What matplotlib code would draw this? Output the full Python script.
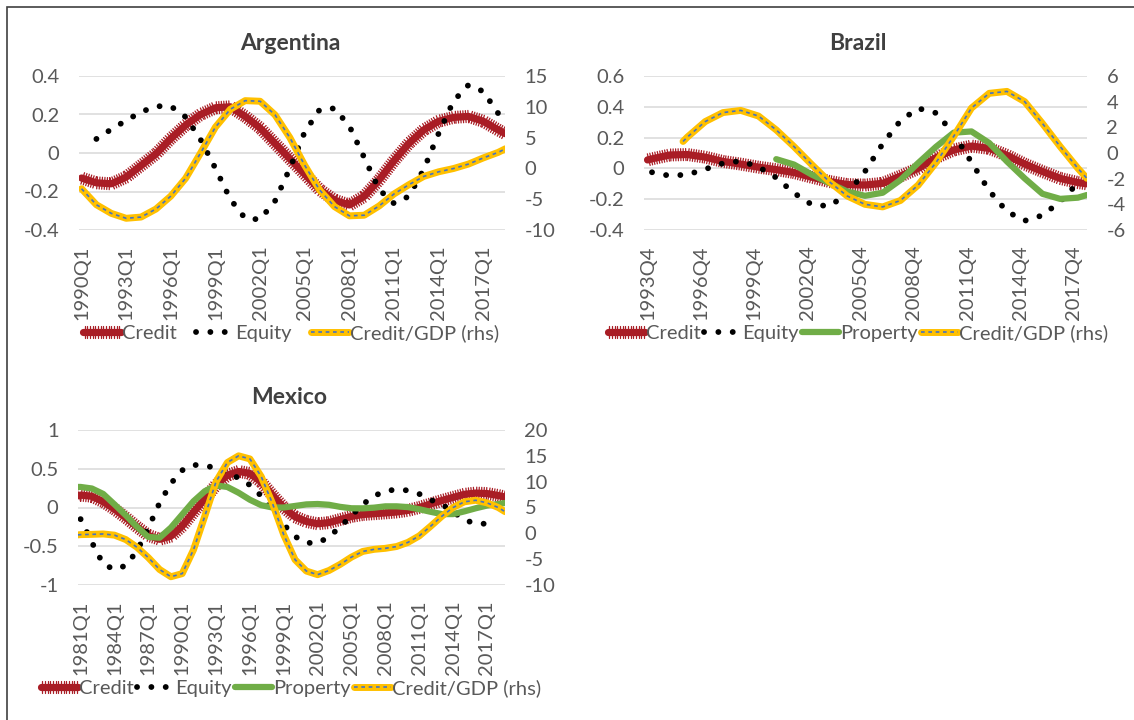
import numpy as np
import matplotlib
matplotlib.use('Agg')
import matplotlib.pyplot as plt
import matplotlib.patheffects as pe
from matplotlib.legend_handler import HandlerTuple
from matplotlib.patches import Rectangle
from matplotlib.ticker import FuncFormatter

plt.rcParams['font.family'] = ['Lato', 'DejaVu Sans']
plt.rcParams['axes.unicode_minus'] = False

# ---------------- Argentina ----------------
ar_t = np.r_[np.arange(1990, 2019), 2018.5]
ar_credit = [-0.13, -0.155, -0.16, -0.125, -0.065, -0.005, 0.075, 0.145, 0.2, 0.235,
             0.24, 0.19, 0.13, 0.05, -0.03, -0.11, -0.19, -0.245, -0.27, -0.225,
             -0.14, -0.04, 0.05, 0.12, 0.165, 0.185, 0.19, 0.165, 0.12, 0.10]
ar_eq_t = np.arange(1991, 2019)
ar_equity = [0.073, 0.123, 0.169, 0.213, 0.243, 0.243, 0.187, 0.07, -0.08, -0.24,
             -0.34, -0.345, -0.25, -0.08, 0.109, 0.225, 0.232, 0.14, -0.024, -0.19,
             -0.262, -0.225, -0.085, 0.102, 0.27, 0.353, 0.32, 0.206]
ar_cgdp = [-3.3, -5.9, -7.3, -8.1, -7.9, -6.6, -4.5, -1.6, 2.5, 6.7,
           9.6, 11.0, 10.9, 8.7, 5.0, 0.5, -3.5, -6.2, -7.7, -7.6,
           -6.1, -4.15, -2.65, -1.3, -0.55, -0.02, 0.7, 1.7, 2.6, 3.2]

# ---------------- Brazil ----------------
br_t = np.r_[1993.75, np.arange(1994, 2019), 2018.5]
br_credit = [0.055, 0.062, 0.087, 0.09, 0.073, 0.045, 0.028, 0.008, -0.008, -0.027,
             -0.057, -0.085, -0.105, -0.108, -0.097, -0.05, 0.0, 0.07, 0.12, 0.145,
             0.13, 0.085, 0.028, -0.02, -0.065, -0.092, -0.10]
br_eq_t = np.arange(1994, 2019)
br_equity = [-0.025, -0.048, -0.04, -0.005, 0.033, 0.048, 0.01, -0.06, -0.16, -0.235,
             -0.245, -0.165, -0.02, 0.16, 0.31, 0.39, 0.36, 0.225, 0.04, -0.145,
             -0.28, -0.34, -0.305, -0.215, -0.095]
br_prop_t = np.r_[np.arange(2001, 2019), 2018.5]
br_property = [0.06, 0.025, -0.04, -0.095, -0.15, -0.178, -0.158, -0.075, 0.035, 0.14,
               0.232, 0.24, 0.165, 0.045, -0.065, -0.165, -0.198, -0.19, -0.173]
br_cg_t = np.r_[1995.75, np.arange(1996, 2019), 2018.5]
br_cgdp = [0.9, 1.25, 2.45, 3.15, 3.32, 2.88, 1.8, 0.5, -0.9, -2.25,
           -3.35, -4.0, -4.2, -3.7, -2.5, -0.75, 1.3, 3.5, 4.65, 4.8,
           4.0, 2.3, 0.5, -1.2, -1.97]

# ---------------- Mexico ----------------
mx_t = np.r_[1980.75, np.arange(1981, 2019), 2018.6]
mx_credit = [0.15, 0.16, 0.145, 0.075, -0.02, -0.13, -0.25, -0.36, -0.41, -0.37,
             -0.24, -0.06, 0.11, 0.29, 0.415, 0.465, 0.44, 0.33, 0.16, 0.0,
             -0.12, -0.18, -0.21, -0.195, -0.155, -0.115, -0.09, -0.08, -0.07, -0.058,
             -0.037, 0.0, 0.045, 0.09, 0.13, 0.17, 0.186, 0.18, 0.155, 0.135]
mx_eq_t = np.arange(1981, 2018)
mx_equity = [-0.15, -0.45, -0.73, -0.80, -0.75, -0.56, -0.265, 0.06, 0.31, 0.48,
             0.55, 0.54, 0.51, 0.45, 0.38, 0.29, 0.15, -0.04, -0.22, -0.375,
             -0.455, -0.46, -0.38, -0.25, -0.105, 0.04, 0.15, 0.21, 0.235, 0.22,
             0.175, 0.1, 0.04, -0.055, -0.16, -0.208, -0.21]
mx_property = [0.265, 0.265, 0.245, 0.175, 0.04, -0.10, -0.25, -0.38, -0.39, -0.26,
               -0.09, 0.08, 0.21, 0.285, 0.265, 0.19, 0.1, 0.03, 0.0, 0.0,
               0.02, 0.04, 0.045, 0.035, 0.008, -0.01, -0.011, -0.002, 0.015, 0.015,
               0.005, -0.022, -0.055, -0.085, -0.085, -0.05, -0.01, 0.025, 0.045, 0.058]
mx_cgdp = [-0.3, -0.25, -0.2, -0.12, -0.35, -1.2, -2.7, -4.7, -7.0, -8.4,
           -7.8, -3.2, 3.3, 10.0, 13.7, 15.0, 14.4, 11.0, 5.8, -0.3,
           -5.1, -7.3, -8.0, -7.2, -6.0, -4.6, -3.5, -3.1, -2.9, -2.55,
           -1.75, -0.5, 1.35, 3.3, 5.0, 6.1, 6.4, 5.9, 5.0, 4.2]

RED = '#A91D25'
GREEN = '#70AD47'
YELLOW = '#FFC000'
BLUE = '#4472C4'
GRID = '#D9D9D9'
TXT = '#595959'
FS = 14.5


def num_fmt(v, pos):
    return '0' if abs(v) < 1e-9 else f'{v:g}'


def make_panel(rect, title, title_xy, xlim, xticks, xlabels, ylim, ystep, y2lim, y2step):
    ax = fig.add_axes(rect)
    ax2 = ax.twinx()
    ax.set_xlim(*xlim)
    ax.set_ylim(*ylim)
    ax2.set_ylim(*y2lim)
    ax.set_yticks(np.arange(ylim[0], ylim[1] + ystep / 2, ystep))
    ax2.set_yticks(np.arange(y2lim[0], y2lim[1] + y2step / 2, y2step))
    ax.yaxis.set_major_formatter(FuncFormatter(num_fmt))
    ax2.yaxis.set_major_formatter(FuncFormatter(num_fmt))
    ax.set_xticks(xticks)
    ax.set_xticklabels(xlabels, rotation=90)
    ax.grid(axis='y', color=GRID, lw=1.1)
    ax.set_axisbelow(True)
    for a in (ax, ax2):
        for s in a.spines.values():
            s.set_visible(False)
        a.tick_params(length=0, labelsize=FS, labelcolor=TXT, pad=11)
        a.tick_params(axis='y', pad=14)
    fig.text(title_xy[0], title_xy[1], title, ha='center', va='center',
             fontsize=16.5, fontweight='bold', color='#404040')
    return ax, ax2


def plot_credit(ax, t, y):
    ticks = dict(spacing=1.8, length=2.4, linewidth=0.9, foreground=RED)
    line, = ax.plot(t, y, color=RED, lw=5.2, solid_capstyle='round', label='Credit',
                    path_effects=[pe.TickedStroke(angle=90, **ticks),
                                  pe.TickedStroke(angle=-90, **ticks), pe.Normal()])
    return line


def plot_equity(ax, t, y):
    line, = ax.plot(t, y, color='black', lw=4.2, ls=(0, (0.01, 2.45)),
                    dash_capstyle='round', label='Equity')
    return line


def plot_property(ax, t, y):
    line, = ax.plot(t, y, color=GREEN, lw=4.5, solid_capstyle='round', label='Property')
    return line


def plot_cgdp(ax2, t, y):
    l1, = ax2.plot(t, y, color=YELLOW, lw=5, solid_capstyle='round')
    l2, = ax2.plot(t, y, color=BLUE, lw=1.2, ls=(0, (2.2, 2.2)))
    return (l1, l2)


W, H = 1134, 720
fig = plt.figure(figsize=(W / 100, H / 100), dpi=100)


def frac(x0, y_top, x1, y_bot):
    return [x0 / W, 1 - y_bot / H, (x1 - x0) / W, (y_bot - y_top) / H]


# Argentina
ax, ax2 = make_panel(frac(79, 76, 505, 230), 'Argentina', (290 / W, 1 - 43 / H),
                     (1989.83, 2018.46), np.arange(1990, 2018, 3),
                     [f'{y}Q1' for y in range(1990, 2018, 3)],
                     (-0.4, 0.4), 0.2, (-10, 15), 5)
h1 = plot_credit(ax, ar_t, ar_credit)
h2 = plot_equity(ax, ar_eq_t, ar_equity)
h3 = plot_cgdp(ax2, ar_t, ar_cgdp)
fig.legend([h1, h2, h3], ['Credit', 'Equity', 'Credit/GDP (rhs)'],
           handler_map={tuple: HandlerTuple(ndivide=1)},
           loc='center', bbox_to_anchor=(291 / W, 1 - 333 / H), ncol=3, frameon=False,
           fontsize=FS, labelcolor=TXT, handlelength=1.85, handletextpad=0.05,
           columnspacing=1.0, borderpad=0)

# Brazil
ax, ax2 = make_panel(frac(644, 76, 1087, 230), 'Brazil', (858 / W, 1 - 43 / H),
                     (1993.55, 2018.51), np.arange(1993.75, 2018, 3),
                     [f'{y}Q4' for y in range(1993, 2018, 3)],
                     (-0.4, 0.6), 0.2, (-6, 6), 2)
h1 = plot_credit(ax, br_t, br_credit)
h2 = plot_equity(ax, br_eq_t, br_equity)
h3 = plot_property(ax, br_prop_t, br_property)
h4 = plot_cgdp(ax2, br_cg_t, br_cgdp)
fig.legend([h1, h2, h3, h4], ['Credit', 'Equity', 'Property', 'Credit/GDP (rhs)'],
           handler_map={tuple: HandlerTuple(ndivide=1)},
           loc='center', bbox_to_anchor=(858 / W, 1 - 333 / H), ncol=4, frameon=False,
           fontsize=FS, labelcolor=TXT, handlelength=1.85, handletextpad=0.05,
           columnspacing=0.15, borderpad=0)

# Mexico
ax, ax2 = make_panel(frac(78, 430, 505, 585), 'Mexico', (289 / W, 1 - 397 / H),
                     (1980.77, 2018.6), np.arange(1981, 2018, 3),
                     [f'{y}Q1' for y in range(1981, 2018, 3)],
                     (-1, 1), 0.5, (-10, 20), 5)
h1 = plot_credit(ax, mx_t, mx_credit)
h2 = plot_equity(ax, mx_eq_t, mx_equity)
h3 = plot_property(ax, mx_t, mx_property)
h4 = plot_cgdp(ax2, mx_t, mx_cgdp)
fig.legend([h1, h2, h3, h4], ['Credit', 'Equity', 'Property', 'Credit/GDP (rhs)'],
           handler_map={tuple: HandlerTuple(ndivide=1)},
           loc='center', bbox_to_anchor=(291 / W, 1 - 688 / H), ncol=4, frameon=False,
           fontsize=FS, labelcolor=TXT, handlelength=1.85, handletextpad=0.05,
           columnspacing=0.15, borderpad=0)

# outer frame (only top and left edges fall inside the image)
fig.add_artist(Rectangle((7 / W, -0.05), 1.2, (H - 7) / H + 0.05, transform=fig.transFigure,
                         fill=False, edgecolor='#404040', lw=1.2))

fig.savefig('out.png', dpi=100)
